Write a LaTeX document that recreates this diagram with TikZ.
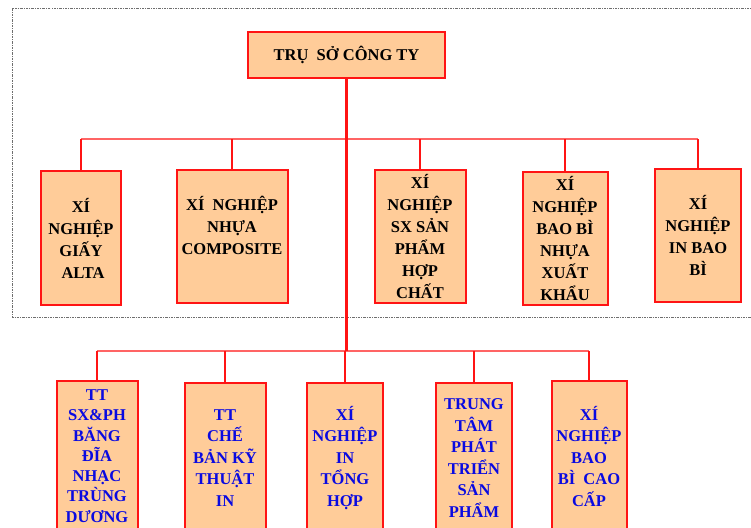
\documentclass[tikz,border=0pt]{standalone}
\usepackage{fontspec}
\setmainfont{Liberation Serif}
\definecolor{peach}{RGB}{255,204,153}
\definecolor{boxred}{RGB}{255,20,20}
\definecolor{busred}{RGB}{255,100,100}
\definecolor{deptblue}{RGB}{10,10,225}
\definecolor{framegray}{RGB}{110,110,110}
\begin{document}
\begin{tikzpicture}[x=1pt, y=-1pt,
  unit/.style={draw=boxred, line width=2pt, fill=peach, inner sep=0pt, align=center, font=\bfseries\fontsize{16.5}{22}\selectfont},
  ubox/.style={unit, minimum height=133pt},
  lbox/.style={unit, minimum height=150pt, text=deptblue, font=\bfseries\fontsize{16.5}{21.5}\selectfont},
  bus/.style={busred, line width=1.5pt},
  drop/.style={boxred, line width=1.6pt},
  frame/.style={framegray, line width=0.8pt, dash pattern=on 2.5pt off 1pt on 1pt off 1pt}
]
  \useasboundingbox (0,0) rectangle (751,527);
  \clip (0,0) rectangle (751,527);

  % dotted frame round the upper row
  \draw[frame] (760,8) -- (12,8) -- (12,317) -- (760,317);

  \node[unit, minimum width=197pt, minimum height=46pt] (hq) at (346.5,55) {TRỤ~ SỞ CÔNG TY};

  % upper row
  \node[ubox, minimum width=80pt, minimum height=134pt] (giay) at (81,238) {XÍ\\NGHIỆP\\GIẤY\\\ ALTA};
  \node[ubox, minimum width=111pt] (nhua) at (232,236.5) {XÍ~ NGHIỆP\\NHỰA\\COMPOSITE\\~};
  \node[ubox, minimum width=91pt] (hopchat) at (420,236.5) {XÍ\\NGHIỆP\\SX SẢN\\PHẨM\\HỢP\\CHẤT};
  \node[ubox, minimum width=85pt] (baobi) at (565,238.5) {XÍ\\NGHIỆP\\BAO BÌ\\NHỰA\\XUẤT\\KHẨU};
  \node[ubox, minimum width=86pt] (inbaobi) at (698,235) {XÍ\\NGHIỆP\\IN BAO\\BÌ};

  % lower row
  \node[lbox, minimum width=81pt, font=\bfseries\fontsize{16.5}{20.3}\selectfont] (bangdia) at (97,456) {TT\\SX\&PH\\BĂNG\\ĐĨA\\NHẠC\\TRÙNG\\DƯƠNG};
  \node[lbox, minimum width=81pt] (chebanky) at (225,458) {TT\\CHẾ\\BẢN KỸ\\THUẬT\\IN};
  \node[lbox, minimum width=76pt] (tonghop) at (345,458) {XÍ\\NGHIỆP\\IN\\TỔNG\\HỢP};
  \node[lbox, minimum width=76pt] (phattrien) at (474,458) {TRUNG\\TÂM\\PHÁT\\TRIỂN\\SẢN\\PHẨM};
  \node[lbox, minimum width=75pt] (caocap) at (589,456) {XÍ\\NGHIỆP\\BAO\\BÌ~ CAO\\CẤP};

  \coordinate (ub) at (hq.south |- 0,139);
  \coordinate (lb) at (hq.south |- 0,351);

  \draw[bus] (giay.north |- ub) -- (inbaobi.north |- ub);
  \foreach \n in {giay,nhua,hopchat,baobi,inbaobi}
    \draw[drop] (\n.north |- ub) -- (\n.north);

  \draw[bus] (bangdia.north |- lb) -- (caocap.north |- lb);
  \foreach \n in {bangdia,chebanky,tonghop,phattrien,caocap}
    \draw[drop] (\n.north |- lb) -- (\n.north);

  \draw[boxred, line width=3.5pt] (hq.south) -- (lb);
\end{tikzpicture}
\end{document}
